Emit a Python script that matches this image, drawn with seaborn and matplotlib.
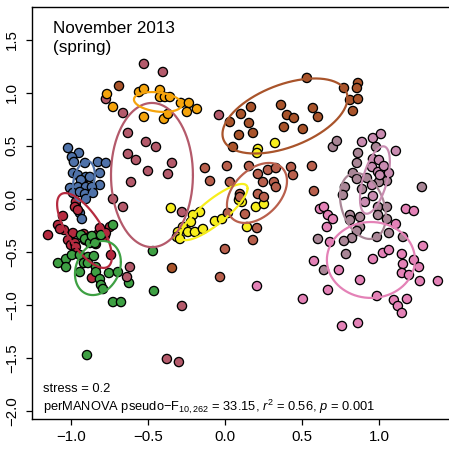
import numpy as np
import pandas as pd
import matplotlib
matplotlib.use("Agg")
import matplotlib.pyplot as plt
import seaborn as sns

# NMDS site scores per habitat group (axis 1, axis 2)
blue_x = [-1.019, -0.948, -0.994, -0.981, -0.909, -0.825, -0.773, -0.812, -0.987, -0.955, -0.903,
          -0.935, -0.877, -0.812, -1.006, -0.955, -0.903, -0.864, -0.987, -0.942, -0.909, -0.857,
          -0.903, -0.968, -0.942, -0.929]
blue_y = [0.481, 0.434, 0.396, 0.349, 0.340, 0.349, 0.340, 0.245, 0.245, 0.226, 0.208,
          0.179, 0.208, 0.132, 0.104, 0.113, 0.113, 0.113, 0.057, 0.066, 0.047, 0.057,
          0.000, -0.066, -0.132, -0.189]

red_x = [-0.968, -0.974, -0.955, -1.052, -1.084, -1.045, -1.149, -0.987, -0.916, -0.877, -0.831,
         -0.747, -0.779, -1.019, -1.000, -0.974, -0.968, -0.909, -0.844, -0.838, -0.773, -0.968,
         -0.864, -0.740, -1.071, -0.812]
red_y = [-0.028, -0.075, -0.104, -0.160, -0.245, -0.292, -0.340, -0.321, -0.330, -0.358, -0.340,
         -0.264, -0.349, -0.387, -0.434, -0.415, -0.453, -0.387, -0.377, -0.425, -0.321, -0.509,
         -0.745, -0.528, -0.283, -0.274]

green_x = [-1.084, -1.032, -1.032, -0.994, -0.935, -0.909, -0.877, -0.864, -0.805, -0.844, -0.942,
           -0.890, -0.851, -0.916, -0.942, -0.890, -0.838, -0.838, -0.812, -0.805, -0.792, -0.753,
           -0.695, -0.623, -0.727, -0.675, -0.896, -0.468, -0.461, -0.727]
green_y = [-0.604, -0.566, -0.642, -0.528, -0.340, -0.377, -0.415, -0.349, -0.340, -0.415, -0.528,
           -0.547, -0.538, -0.604, -0.689, -0.604, -0.642, -0.689, -0.755, -0.811, -0.849, -0.698,
           -0.689, -0.792, -0.972, -0.972, -1.472, -0.491, -0.868, -0.245]

mauve_x = [-0.526, -0.403, -0.773, -0.662, -0.630, -0.513, -0.448, -0.630, -0.578, -0.500, -0.344,
           -0.370, -0.610, -0.727, -0.662, -0.039, -0.279, -0.617, -0.636, -0.279, -0.377, -0.299]
mauve_y = [1.274, 1.198, 0.943, 0.811, 0.623, 0.538, 0.491, 0.425, 0.368, 0.264, 0.340,
           0.236, 0.160, 0.000, -0.075, 0.792, -0.123, -0.642, -0.736, -1.009, -1.509, -1.538]

orange_x = [-0.766, -0.727, -0.558, -0.526, -0.526, -0.422, -0.422, -0.390, -0.357, -0.286, -0.234,
            -0.182, -0.247, -0.396, -0.370]
orange_y = [0.990, 0.868, 1.009, 1.038, 0.774, 1.028, 0.962, 0.962, 0.962, 0.906, 0.906,
            0.849, 0.821, 0.755, 0.802]

yellow_x = [-0.351, -0.162, -0.208, -0.221, -0.273, -0.305, -0.240, -0.195, -0.143, -0.065, -0.019,
            -0.312, -0.292, 0.143, 0.201, 0.110, 0.325, 0.214, 0.208, 0.253, 0.091]
yellow_y = [-0.085, -0.123, -0.151, -0.217, -0.264, -0.311, -0.311, -0.311, -0.283, -0.208, -0.189,
            -0.358, -0.377, -0.264, -0.075, -0.028, 0.528, 0.472, 0.434, -0.047, -0.009]

brown_x = [0.532, 0.773, 0.864, 0.857, 0.812, 0.864, 0.831, 0.364, 0.169, 0.104, 0.571, 0.403,
           0.448, 0.604, 0.032, 0.156, 0.383, 0.506, 0.091, 0.182, 0.052, -0.688, -0.344]
brown_y = [1.142, 1.047, 1.094, 1.047, 0.934, 0.943, 0.830, 0.887, 0.868, 0.802, 0.858, 0.792,
           0.764, 0.774, 0.726, 0.717, 0.679, 0.660, 0.604, 0.623, 0.491, 1.066, -0.651]

rust_x = [-0.130, -0.097, 0.013, 0.156, 0.214, 0.279, 0.331, 0.429, 0.442, 0.565, 0.032, 0.247,
          0.318, 0.331, 0.097, 0.214, 0.253, 0.578, 0.130, 0.019, 0.208, 0.182, 0.000, -0.032, 0.097]
rust_y = [0.292, 0.170, 0.311, 0.311, 0.236, 0.274, 0.292, 0.302, 0.226, 0.311, 0.160, 0.160,
          0.160, 0.113, 0.047, 0.047, 0.019, 0.075, -0.142, -0.132, -0.274, -0.387, -0.472, -0.736, 0.019]

taupe_x = [0.701, 0.727, 0.864, 0.857, 1.052, 0.831, 0.857, 0.922, 1.000, 0.779, 0.766, 0.890,
           1.279, 0.812, 0.812, 0.877, 0.994, 1.052, 0.994, 1.052, 0.877, 0.857, 0.825, 0.773,
           0.987, 1.065, 1.156, 0.604, 0.786, 0.643, 0.981]
taupe_y = [0.491, 0.547, 0.434, 0.340, 0.170, 0.245, 0.189, 0.198, 0.160, 0.113, 0.038, 0.094,
           0.113, -0.151, -0.198, -0.170, -0.075, -0.075, -0.151, -0.189, -0.264, -0.302, -0.368,
           -0.396, -0.358, -0.321, -0.358, -0.377, -0.519, -0.670, 0.491]

orchid_x = [0.890, 0.961, 1.013, 1.110, 0.961, 1.000, 0.955, 0.994, 1.006, 1.065, 0.961, 0.955,
            1.032, 0.909]
orchid_y = [0.538, 0.575, 0.613, 0.453, 0.377, 0.368, 0.302, 0.255, 0.226, 0.245, 0.028, 0.132,
            0.311, -0.028]

pink_x = [0.617, 0.643, 0.669, 0.701, 0.662, 1.110, 1.175, 1.227, 0.682, 0.961, 1.026, 1.065,
          1.149, 1.286, 1.156, 1.227, 1.260, 1.149, 1.195, 0.578, 0.740, 0.877, 1.266, 1.383,
          0.669, 0.506, 0.987, 1.097, 1.182, 1.123, 1.149, 0.760, 0.864, 0.208]
pink_y = [-0.094, -0.075, -0.151, -0.189, -0.264, -0.236, -0.094, -0.113, -0.406, -0.566, -0.509,
          -0.481, -0.519, -0.443, -0.613, -0.575, -0.642, -0.698, -0.717, -0.585, -0.670, -0.764,
          -0.774, -0.774, -0.858, -0.943, -0.915, -0.953, -0.943, -1.009, -1.075, -1.198, -1.170,
          -0.821]

group_names = ["blue", "red", "green", "mauve", "orange", "yellow", "brown", "rust",
               "taupe", "orchid", "pink"]
group_colors = ["#4f72a9", "#b52a3f", "#3ea043", "#b45a6b", "#f5a40c", "#f7ee1c", "#a9542b",
                "#b9604d", "#a98696", "#c98cb1", "#e482b7"]
group_x = [blue_x, red_x, green_x, mauve_x, orange_x, yellow_x, brown_x, rust_x,
           taupe_x, orchid_x, pink_x]
group_y = [blue_y, red_y, green_y, mauve_y, orange_y, yellow_y, brown_y, rust_y,
           taupe_y, orchid_y, pink_y]

# Standard-deviation ellipses: centre, sd along each axis, correlation
ell_cx = [-0.916, -0.912, -0.825, -0.474, -0.435, -0.071, 0.390, 0.208, 0.896, 0.974, 0.948]
ell_cy = [0.170, -0.297, -0.651, 0.226, 0.915, -0.123, 0.783, 0.057, -0.066, 0.179, -0.575]
ell_sx = [0.071, 0.178, 0.149, 0.266, 0.156, 0.218, 0.406, 0.195, 0.149, 0.097, 0.286]
ell_sy = [0.189, 0.353, 0.255, 0.680, 0.094, 0.265, 0.354, 0.283, 0.311, 0.318, 0.358]
ell_rho = [0.30, -0.70, 0.22, 0.0, -0.25, 0.84, 0.48, 0.40, -0.30, 0.55, 0.0]

x_ticks = [-1.0, -0.5, 0.0, 0.5, 1.0]
y_ticks = [-2.0, -1.5, -1.0, -0.5, 0.0, 0.5, 1.0, 1.5]

frames = [pd.DataFrame({"NMDS1": gx, "NMDS2": gy, "group": name})
          for name, gx, gy in zip(group_names, group_x, group_y)]
scores = pd.concat(frames, ignore_index=True)
palette = dict(zip(group_names, group_colors))

sns.set_theme(style="white")
plt.rcParams["font.family"] = ["Liberation Sans", "DejaVu Sans"]
plt.rcParams["mathtext.fontset"] = "custom"
plt.rcParams["mathtext.rm"] = "Liberation Sans"
plt.rcParams["mathtext.it"] = "Liberation Sans:italic"

fig = plt.figure(figsize=(4.49, 4.51), dpi=100)
ax = fig.add_axes([32 / 449, 32 / 451, 419 / 449, 412 / 451])

sns.scatterplot(data=scores, x="NMDS1", y="NMDS2", hue="group", palette=palette,
                hue_order=group_names, s=44, edgecolor="black", linewidth=0.95,
                legend=False, ax=ax, zorder=2)

t = np.linspace(0, 2 * np.pi, 240)
circle = np.vstack([np.cos(t), np.sin(t)])
for cx, cy, sx, sy, rho, col in zip(ell_cx, ell_cy, ell_sx, ell_sy, ell_rho, group_colors):
    cov = np.array([[sx * sx, rho * sx * sy], [rho * sx * sy, sy * sy]])
    chol = np.linalg.cholesky(cov)
    pts = chol @ circle
    ax.plot(cx + pts[0], cy + pts[1], color=col, lw=1.6, zorder=3)

ax.set_xlim(-1.253, 1.468)
ax.set_ylim(-2.075, 1.811)
ax.set_xlabel("")
ax.set_ylabel("")

fmt = lambda v: f"{v:.1f}".replace("-", "\u2212")
ax.set_xticks(x_ticks)
ax.set_xticklabels([fmt(v) for v in x_ticks])
ax.set_yticks(y_ticks)
ax.set_yticklabels([fmt(v) for v in y_ticks], rotation=90, va="center")
ax.tick_params(axis="both", direction="out", length=4.5, width=0.9, color="black",
               labelsize=10.8, labelcolor="black", bottom=True, left=True)
ax.tick_params(axis="x", pad=3.2)
ax.tick_params(axis="y", pad=5.0)
for side in ["left", "bottom", "top"]:
    ax.spines[side].set_color("black")
    ax.spines[side].set_linewidth(1.0)
ax.spines["right"].set_visible(False)

ax.text(0.050, 0.937, "November 2013", transform=ax.transAxes, fontsize=12.3,
        va="baseline", ha="left", color="black")
ax.text(0.050, 0.891, "(spring)", transform=ax.transAxes, fontsize=12.3,
        va="baseline", ha="left", color="black")
ax.text(0.026, 0.066, "stress = 0.2", transform=ax.transAxes, fontsize=9.3,
        va="baseline", ha="left", color="black")
ax.text(0.026, 0.019,
        "perMANOVA pseudo\u2212F$_{10,262}$ = 33.15, $r^2$ = 0.56, $p$ = 0.001",
        transform=ax.transAxes, fontsize=9.3, va="baseline", ha="left", color="black")

fig.savefig("out.png", dpi=100)
